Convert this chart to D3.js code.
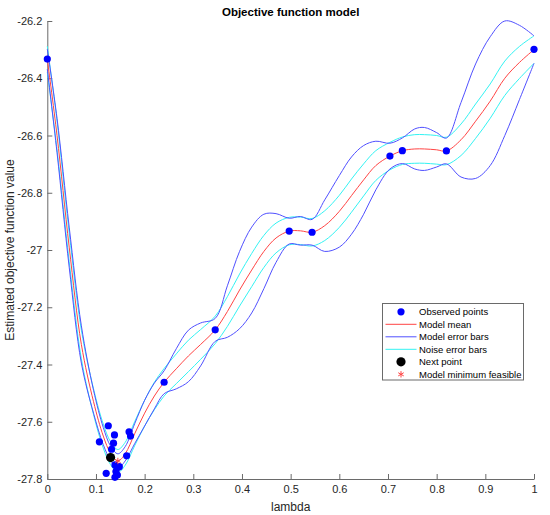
<!DOCTYPE html>
<html>
<head>
<meta charset="utf-8">
<script src="https://cdn.jsdelivr.net/npm/d3@7"></script>
<style>
  body { margin: 0; background: #fff; }
  svg { font-family: "Liberation Sans", Arial, sans-serif; }
  .axis path, .axis line { stroke: #6a6a6a; }
  .axis text { fill: #262626; font-size: 11px; }
</style>
</head>
<body>
<svg id="chart" width="550" height="515"></svg>
<script>
// model grid (lambda) and the curves
var lambdaGrid = [0, 0.02, 0.045, 0.07, 0.095, 0.115, 0.13, 0.145, 0.16, 0.18, 0.2, 0.22, 0.24,
    0.265, 0.29, 0.315, 0.345, 0.37, 0.395, 0.42, 0.445, 0.47, 0.497, 0.52, 0.544, 0.57, 0.6,
    0.625, 0.65, 0.675, 0.704, 0.73, 0.755, 0.775, 0.8, 0.82, 0.85, 0.88, 0.91, 0.94, 0.97, 1];
var meanVals = [-26.333, -26.6, -26.99, -27.33, -27.53, -27.65, -27.71, -27.737, -27.712, -27.64,
    -27.57, -27.51, -27.462, -27.415, -27.37, -27.33, -27.279, -27.215, -27.14, -27.07, -27.005,
    -26.958, -26.934, -26.933, -26.938, -26.915, -26.865, -26.81, -26.755, -26.705, -26.672,
    -26.653, -26.647, -26.647, -26.65, -26.654, -26.615, -26.55, -26.48, -26.4, -26.345, -26.3];
var modelErr = [0.035, 0.06, 0.07, 0.065, 0.04, 0.03, 0.025, 0.025, 0.025, 0.035, 0.045, 0.045,
    0.04, 0.07, 0.09, 0.075, 0.04, 0.09, 0.135, 0.15, 0.13, 0.085, 0.045, 0.05, 0.045, 0.09,
    0.125, 0.135, 0.12, 0.085, 0.045, 0.045, 0.07, 0.075, 0.06, 0.045, 0.13, 0.2, 0.225, 0.2,
    0.13, 0.048];
var noiseErr = [0.045, 0.05, 0.05, 0.05, 0.045, 0.042, 0.04, 0.04, 0.04, 0.042, 0.045, 0.048,
    0.048, 0.052, 0.055, 0.052, 0.048, 0.052, 0.056, 0.058, 0.056, 0.052, 0.048, 0.048, 0.048,
    0.052, 0.056, 0.058, 0.056, 0.052, 0.048, 0.048, 0.05, 0.05, 0.05, 0.048, 0.055, 0.06, 0.06,
    0.06, 0.056, 0.048];

// observed points
var obsLambda = [0, 0.107, 0.121, 0.1253, 0.132, 0.136, 0.138, 0.139, 0.139, 0.141, 0.143, 0.144,
    0.148, 0.163, 0.168, 0.171, 0.24, 0.345, 0.497, 0.544, 0.704, 0.7295, 0.82, 1];
var obsValue = [-26.333, -27.67, -27.78, -27.614, -27.696, -27.675, -27.646, -27.751, -27.794,
    -27.774, -27.762, -27.786, -27.757, -27.719, -27.635, -27.65, -27.462, -27.279, -26.934,
    -26.938, -26.672, -26.653, -26.654, -26.299];
var nextPoint = [0.13, -27.725];
var modelMin = [0.145, -27.737];

var xTicks = [0, 0.1, 0.2, 0.3, 0.4, 0.5, 0.6, 0.7, 0.8, 0.9, 1];
var yTicks = [-26.2, -26.4, -26.6, -26.8, -27, -27.2, -27.4, -27.6, -27.8];

var legendItems = ['Observed points', 'Model mean', 'Model error bars', 'Noise error bars',
    'Next point', 'Model minimum feasible'];

function drawChart() {
    var svg = d3.select('#chart');
    var axLeft = 47.3, axRight = 534, axTop = 21, axBottom = 479;

    var x = d3.scaleLinear().domain([0, 1]).range([axLeft, axRight]);
    var y = d3.scaleLinear().domain([-27.8, -26.2]).range([axBottom, axTop]);

    var grid = lambdaGrid.map(function (l, i) {
        return { l: l, m: meanVals[i], s: modelErr[i], n: noiseErr[i] };
    });

    function curve(fn) {
        return d3.line()
            .x(function (d) { return x(d.l); })
            .y(function (d) { return y(fn(d)); })
            .curve(d3.curveCatmullRom.alpha(0.5));
    }

    var fmt = function (d) { return String(+d.toFixed(1)); };

    svg.append('g')
        .attr('class', 'axis')
        .attr('transform', 'translate(0,' + axBottom + ')')
        .call(d3.axisBottom(x).tickValues(xTicks).tickFormat(fmt).tickSizeInner(-5).tickSizeOuter(0).tickPadding(6));

    svg.append('g')
        .attr('class', 'axis')
        .attr('transform', 'translate(' + axLeft + ',0)')
        .call(d3.axisLeft(y).tickValues(yTicks).tickFormat(fmt).tickSizeInner(-5).tickSizeOuter(0).tickPadding(5));

    var red = '#ff4444', blue = '#5050ff', cyan = '#33f3f3';

    var curves = [
        { fn: function (d) { return d.m + d.n; }, c: cyan },
        { fn: function (d) { return d.m - d.n; }, c: cyan },
        { fn: function (d) { return d.m + d.s; }, c: blue },
        { fn: function (d) { return d.m - d.s; }, c: blue },
        { fn: function (d) { return d.m; }, c: red }
    ];
    curves.forEach(function (c) {
        svg.append('path')
            .datum(grid)
            .attr('fill', 'none')
            .attr('stroke', c.c)
            .attr('stroke-width', 1)
            .attr('d', curve(c.fn));
    });

    svg.append('g').selectAll('circle')
        .data(obsLambda)
        .enter()
        .append('circle')
        .attr('cx', function (d) { return x(d); })
        .attr('cy', function (d, i) { return y(obsValue[i]); })
        .attr('r', 3.6)
        .attr('fill', '#0000ff');

    svg.append('circle')
        .attr('cx', x(nextPoint[0]))
        .attr('cy', y(nextPoint[1]))
        .attr('r', 4.6)
        .attr('fill', '#000');

    var star = d3.symbol().type(d3.symbolAsterisk).size(28);
    svg.append('path')
        .attr('transform', 'translate(' + x(modelMin[0]) + ',' + y(modelMin[1]) + ')')
        .attr('d', star())
        .attr('fill', 'none')
        .attr('stroke', red);

    // titles
    svg.append('text')
        .attr('x', (axLeft + axRight) / 2)
        .attr('y', 15.5)
        .attr('text-anchor', 'middle')
        .attr('font-weight', 'bold')
        .attr('font-size', '11.5px')
        .attr('fill', '#000')
        .text('Objective function model');

    svg.append('text')
        .attr('x', (axLeft + axRight) / 2)
        .attr('y', 511)
        .attr('text-anchor', 'middle')
        .attr('font-size', '12px')
        .attr('fill', '#262626')
        .text('lambda');

    svg.append('text')
        .attr('transform', 'translate(14,' + (axTop + axBottom) / 2 + ') rotate(-90)')
        .attr('text-anchor', 'middle')
        .attr('font-size', '12px')
        .attr('fill', '#262626')
        .text('Estimated objective function value');

    // legend
    var lg = svg.append('g').attr('transform', 'translate(382.5,303.5)');
    lg.append('rect')
        .attr('width', 141)
        .attr('height', 76.5)
        .attr('fill', '#fff')
        .attr('stroke', '#6a6a6a');

    var rows = lg.selectAll('g.row')
        .data(legendItems)
        .enter()
        .append('g')
        .attr('class', 'row')
        .attr('transform', function (d, i) { return 'translate(0,' + (8.3 + i * 12.5) + ')'; });

    rows.append('text')
        .attr('x', 36.5)
        .attr('dy', '0.35em')
        .attr('font-size', '9.5px')
        .attr('fill', '#000')
        .text(function (d) { return d; });

    rows.each(function (d, i) {
        var g = d3.select(this);
        if (i === 0) {
            g.append('circle').attr('cx', 18.5).attr('r', 3.6).attr('fill', '#0000ff');
        } else if (i === 4) {
            g.append('circle').attr('cx', 18.5).attr('r', 4.6).attr('fill', '#000');
        } else if (i === 5) {
            g.append('path').attr('transform', 'translate(18.5,0)').attr('d', star())
                .attr('fill', 'none').attr('stroke', red);
        } else {
            g.append('line').attr('x1', 3).attr('x2', 34)
                .attr('stroke', [null, red, blue, cyan][i]).attr('stroke-width', 1);
        }
    });
}

drawChart();
</script>
</body>
</html>
